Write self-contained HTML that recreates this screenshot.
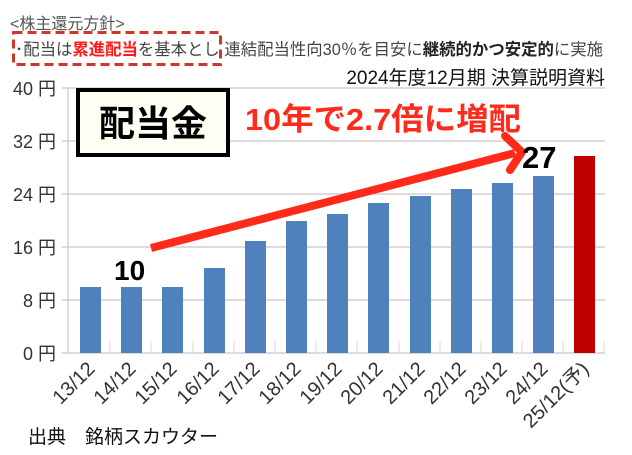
<!DOCTYPE html>
<html><head><meta charset="utf-8"><style>
body{margin:0;width:632px;height:450px;background:#fff;overflow:hidden;font-family:"Liberation Sans","Noto Sans CJK JP",sans-serif;}
</style></head><body>
<svg width="632" height="450" xmlns="http://www.w3.org/2000/svg" font-family="Liberation Sans, Noto Sans CJK JP, sans-serif">
<text x="10" y="29" font-size="16" fill="#555">&lt;株主還元方針&gt;</text>
<rect x="13.5" y="32.5" width="207" height="32" fill="none" stroke="#d0362a" stroke-width="3" stroke-dasharray="9,5"/>
<text x="15" y="55" font-size="16.5" fill="#444" textLength="588" lengthAdjust="spacingAndGlyphs">･配当は<tspan fill="#ff1a1a" font-weight="bold">累進配当</tspan>を基本とし 連結配当性向30％を目安に<tspan font-weight="bold" fill="#222">継続的かつ安定的</tspan>に実施</text>
<text x="605" y="84" font-size="19" fill="#111" text-anchor="end">2024年度12月期 決算説明資料</text>
<g stroke="#c8c8c8" stroke-width="1.2">
<line x1="62" y1="88" x2="605" y2="88"/><line x1="62" y1="141" x2="605" y2="141"/><line x1="62" y1="194" x2="605" y2="194"/><line x1="62" y1="247" x2="605" y2="247"/><line x1="62" y1="300" x2="605" y2="300"/><line x1="62" y1="353" x2="605" y2="353"/>
<line x1="68" y1="88" x2="68" y2="353"/>
</g>
<g stroke="#d8d8d8" stroke-width="1">
<line x1="110" y1="341" x2="110" y2="353"/><line x1="151" y1="341" x2="151" y2="353"/><line x1="193" y1="341" x2="193" y2="353"/><line x1="234" y1="341" x2="234" y2="353"/><line x1="275" y1="341" x2="275" y2="353"/><line x1="316" y1="341" x2="316" y2="353"/><line x1="357" y1="341" x2="357" y2="353"/><line x1="399" y1="341" x2="399" y2="353"/><line x1="440" y1="341" x2="440" y2="353"/><line x1="481" y1="341" x2="481" y2="353"/><line x1="522" y1="341" x2="522" y2="353"/><line x1="563" y1="341" x2="563" y2="353"/><line x1="604" y1="341" x2="604" y2="353"/>
</g>
<g font-size="18" fill="#333" text-anchor="end">
<text x="56" y="95">40 円</text><text x="56" y="148">32 円</text><text x="56" y="201">24 円</text><text x="56" y="254">16 円</text><text x="56" y="307">8 円</text><text x="56" y="360">0 円</text>
</g>
<g fill="#4f81bd">
<rect x="80" y="287" width="21" height="66"/>
<rect x="121" y="287" width="21" height="66"/>
<rect x="162" y="287" width="21" height="66"/>
<rect x="204" y="268" width="21" height="85"/>
<rect x="245" y="241" width="21" height="112"/>
<rect x="286" y="221" width="21" height="132"/>
<rect x="327" y="214" width="21" height="139"/>
<rect x="368" y="203" width="21" height="150"/>
<rect x="410" y="196" width="21" height="157"/>
<rect x="451" y="189" width="21" height="164"/>
<rect x="492" y="183" width="21" height="170"/>
<rect x="533" y="176" width="21" height="177"/>
</g>
<rect x="574" y="156" width="21" height="197" fill="#c00000"/>
<g font-size="20" fill="#333" text-anchor="end">
<text transform="translate(96,370) rotate(-45)">13/12</text>
<text transform="translate(137,370) rotate(-45)">14/12</text>
<text transform="translate(178,370) rotate(-45)">15/12</text>
<text transform="translate(220,370) rotate(-45)">16/12</text>
<text transform="translate(261,370) rotate(-45)">17/12</text>
<text transform="translate(302,370) rotate(-45)">18/12</text>
<text transform="translate(343,370) rotate(-45)">19/12</text>
<text transform="translate(384,370) rotate(-45)">20/12</text>
<text transform="translate(426,370) rotate(-45)">21/12</text>
<text transform="translate(467,370) rotate(-45)">22/12</text>
<text transform="translate(508,370) rotate(-45)">23/12</text>
<text transform="translate(549,370) rotate(-45)">24/12</text>
<text transform="translate(590,370) rotate(-45)">25/12(予)</text>
</g>
<text x="28" y="443" font-size="19" fill="#111">出典　銘柄スカウター</text>
<rect x="78" y="90" width="150" height="65" fill="#fffef2" stroke="#000" stroke-width="4"/>
<text x="153" y="136" font-size="36" font-weight="bold" text-anchor="middle" fill="#000">配当金</text>
<text x="245" y="130" font-size="31" font-weight="bold" fill="#ff2a1a" textLength="276" lengthAdjust="spacingAndGlyphs">10年で2.7倍に増配</text>
<line x1="151" y1="248" x2="515" y2="153" stroke="#ff2a1a" stroke-width="8"/>
<polyline points="505,136 522,152 510,170" fill="none" stroke="#ff2a1a" stroke-width="8" stroke-linecap="round" stroke-linejoin="round"/>
<text x="522" y="168" font-size="31" font-weight="bold" fill="#000">27</text>
<text x="114" y="280" font-size="28" font-weight="bold" fill="#000">10</text>
</svg>
</body></html>
